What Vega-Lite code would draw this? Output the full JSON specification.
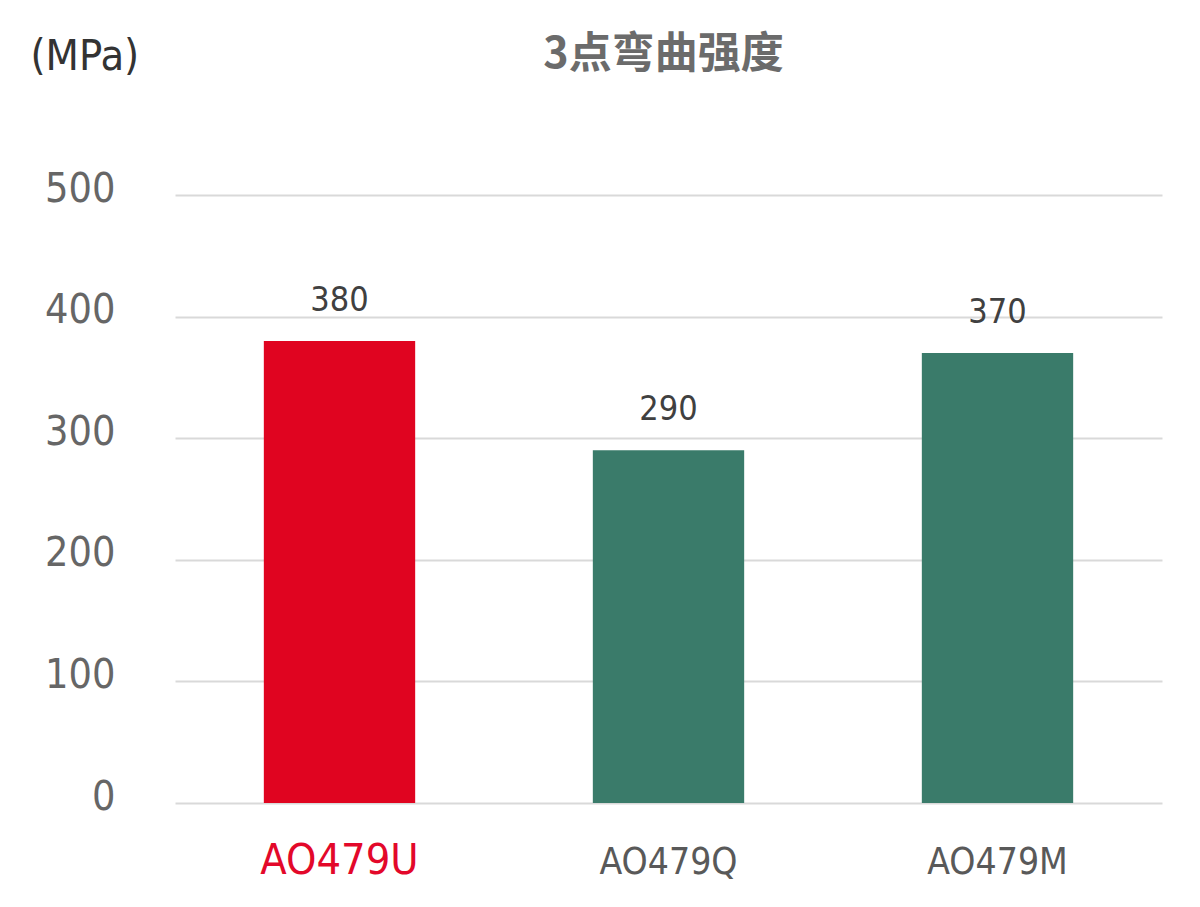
{
  "$schema": "https://vega.github.io/schema/vega-lite/v6.json",
  "autosize": "none",
  "width": 987,
  "height": 608,
  "padding": {"left": 175, "top": 195, "right": 38, "bottom": 104},
  "background": "white",
  "title": {
    "text": "3点弯曲强度",
    "font": "Noto Sans CJK SC",
    "fontSize": 43,
    "fontWeight": "bold",
    "color": "#6b6b6b",
    "anchor": "middle",
    "offset": 0,
    "dx": -5,
    "dy": 42
  },
  "config": {"view": {"stroke": null}},
  "data": {
    "values": [
      {"grade": "AO479U", "strength": 380, "highlight": "yes"},
      {"grade": "AO479Q", "strength": 290, "highlight": "no"},
      {"grade": "AO479M", "strength": 370, "highlight": "no"}
    ]
  },
  "encoding": {
    "x": {
      "field": "grade",
      "type": "nominal",
      "sort": null,
      "scale": {"paddingInner": 0.54, "paddingOuter": 0.27},
      "axis": {
        "title": null,
        "labelAngle": 0,
        "domain": false,
        "ticks": false,
        "labelBaseline": "alphabetic",
        "labelPadding": 70,
        "labelFont": "DejaVu Sans Condensed",
        "labelFontSize": {"condition": {"test": "datum.value == 'AO479U'", "value": 43}, "value": 37},
        "labelColor": {"condition": {"test": "datum.value == 'AO479U'", "value": "#e3082a"}, "value": "#595959"}
      }
    },
    "y": {
      "field": "strength",
      "type": "quantitative",
      "scale": {"domain": [0, 500]},
      "axis": {
        "title": "(MPa)",
        "titleAngle": 0,
        "titleX": -145,
        "titleY": -139,
        "titleAlign": "left",
        "titleBaseline": "middle",
        "titleFont": "DejaVu Sans Condensed",
        "titleFontSize": 43,
        "titleFontWeight": "normal",
        "titleColor": "#333333",
        "values": [0, 100, 200, 300, 400, 500],
        "domain": false,
        "ticks": false,
        "labelPadding": 60,
        "labelOffset": -6,
        "labelFont": "DejaVu Sans Condensed",
        "labelFontSize": 41,
        "labelColor": "#666666",
        "gridColor": "#d9d9d9",
        "gridWidth": 2
      }
    }
  },
  "layer": [
    {
      "mark": {"type": "bar"},
      "encoding": {
        "color": {
          "field": "highlight",
          "type": "nominal",
          "scale": {"domain": ["yes", "no"], "range": ["#e00420", "#3a7b6a"]},
          "legend": null
        }
      }
    },
    {
      "mark": {
        "type": "text",
        "baseline": "alphabetic",
        "dy": -30,
        "font": "DejaVu Sans Condensed",
        "fontSize": 34,
        "color": "#404040"
      },
      "encoding": {"text": {"field": "strength", "type": "quantitative"}}
    }
  ]
}
